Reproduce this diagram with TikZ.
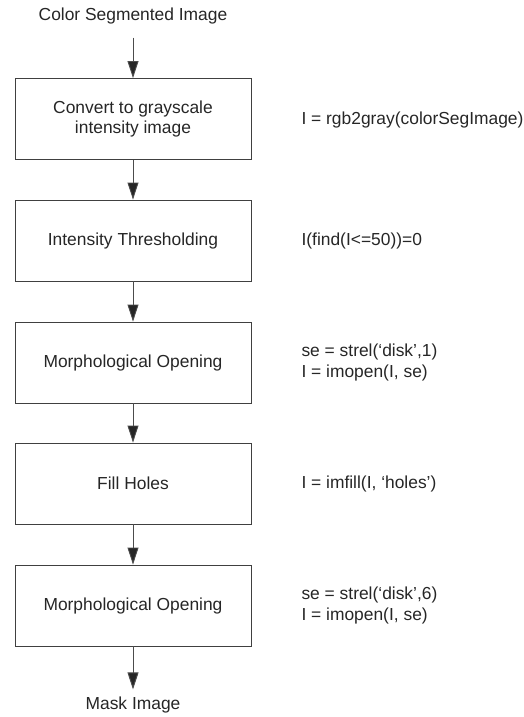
\documentclass[tikz,border=0pt]{standalone}
\usepackage{fontspec}
\setmainfont{Liberation Sans}
\usetikzlibrary{arrows.meta}

\tikzset{
  etape/.style={draw=black!75, line width=0.9pt, minimum width=236pt, minimum height=81pt,
    align=center, font=\fontsize{17.4}{20}\selectfont, text=black!85},
  code/.style={anchor=west, align=left, font=\fontsize{17.4}{21}\selectfont, text=black!85},
  fleche/.style={draw=black!70, line width=0.9pt, -{Triangle[width=11pt,length=17pt,fill=black!85]}},
}

\begin{document}
\begin{tikzpicture}[x=1pt,y=-1pt]

\useasboundingbox (0,0) rectangle (524,717);

% Entree et sortie
\node[font=\fontsize{17.4}{20}\selectfont, text=black!85] (src) at (133,16) {Color Segmented Image};
\node[font=\fontsize{17.4}{20}\selectfont, text=black!85] (mask) at (133,705) {Mask Image};

% Etapes
\node[etape] (gris) at (133,119) {Convert to grayscale\\intensity image};
\node[etape] (seuil) at (133,240.5) {Intensity Thresholding};
\node[etape] (ouv1) at (133,362.5) {Morphological Opening};
\node[etape] (trous) at (133,483.5) {Fill Holes};
\node[etape] (ouv2) at (133,605.5) {Morphological Opening};

% Code Matlab
\node[code] (c1) at (298,120) {I = rgb2gray(colorSegImage)};
\node[code] (c2) at (298,240.5) {I(find(I<=50))=0};
\node[code] (c3) at (298,362.5) {se = strel(‘disk’,1)\\I = imopen(I, se)};
\node[code] (c4) at (298,483.5) {I = imfill(I, ‘holes’)};
\node[code] (c5) at (298,605.5) {se = strel(‘disk’,6)\\I = imopen(I, se)};

% Fleches
\draw[fleche, shorten <=10pt] (src) -- (gris);
\draw[fleche] (gris) -- (seuil);
\draw[fleche] (seuil) -- (ouv1);
\draw[fleche] (ouv1) -- (trous);
\draw[fleche] (trous) -- (ouv2);
\draw[fleche, shorten >=4pt] (ouv2) -- (mask);

\end{tikzpicture}
\end{document}
